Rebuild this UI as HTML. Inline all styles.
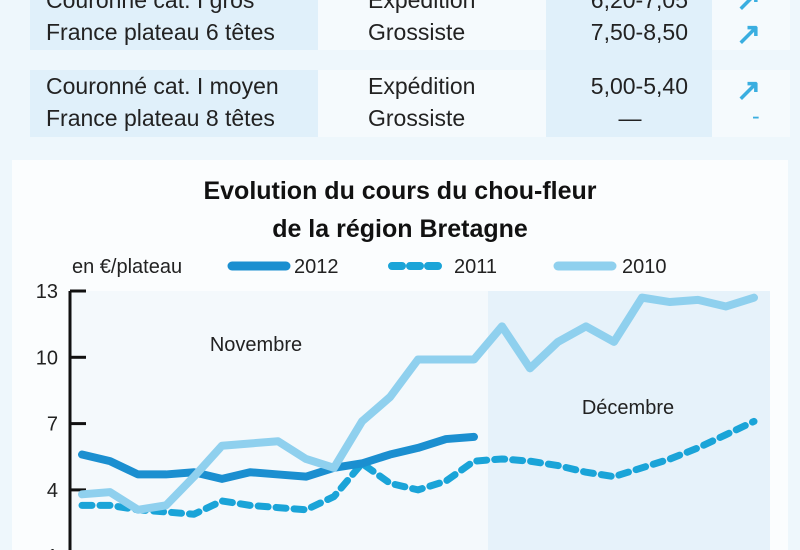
<!DOCTYPE html>
<html><head><meta charset="utf-8"><style>
html,body{margin:0;width:800px;height:550px;overflow:hidden;background:#eef7fc;font-family:"Liberation Sans",sans-serif;}
svg{display:block;}
</style></head><body>
<svg width="800" height="550" viewBox="0 0 800 550" xmlns="http://www.w3.org/2000/svg" font-family="Liberation Sans, sans-serif" overflow="hidden">
<rect x="0" y="0" width="800" height="550" fill="#eef7fc"/>
<g font-size="23" fill="#222">
 <rect x="30" y="0" width="288" height="50" fill="#e0f0fa"/>
 <rect x="318" y="0" width="228" height="50" fill="#f5fafd"/>
 <rect x="546" y="0" width="166" height="137" fill="#e0f0fa"/>
 <rect x="712" y="0" width="78" height="50" fill="#f5fafd"/>
 <rect x="30" y="70" width="288" height="67" fill="#e0f0fa"/>
 <rect x="318" y="70" width="228" height="67" fill="#f5fafd"/>
 <rect x="712" y="70" width="78" height="67" fill="#f5fafd"/>
 <text x="46" y="8">Couronné cat. I gros</text>
 <text x="46" y="40">France plateau 6 têtes</text>
 <text x="368" y="8">Expédition</text>
 <text x="368" y="40">Grossiste</text>
 <text x="688" y="8" text-anchor="end">6,20-7,05</text>
 <text x="688" y="40" text-anchor="end">7,50-8,50</text>
 <text x="46" y="94">Couronné cat. I moyen</text>
 <text x="46" y="126">France plateau 8 têtes</text>
 <text x="368" y="94">Expédition</text>
 <text x="368" y="126">Grossiste</text>
 <text x="688" y="94" text-anchor="end">5,00-5,40</text>
 <text x="630" y="126" text-anchor="middle">—</text>
 <text x="736" y="10" fill="#3aaee0" font-size="30" font-weight="bold">↗</text>
 <text x="736" y="44" fill="#3aaee0" font-size="30" font-weight="bold">↗</text>
 <text x="736" y="100" fill="#3aaee0" font-size="30" font-weight="bold">↗</text>
 <text x="752" y="124" fill="#3aaee0">-</text>
</g>
<rect x="12" y="160" width="776" height="390" fill="#fbfdfe"/>
<text x="400" y="199" text-anchor="middle" font-size="25" font-weight="bold" fill="#111">Evolution du cours du chou-fleur</text>
<text x="400" y="237" text-anchor="middle" font-size="25" font-weight="bold" fill="#111">de la région Bretagne</text>
<g font-size="20" fill="#222">
 <text x="72" y="273">en €/plateau</text>
 <line x1="232" y1="266" x2="286" y2="266" stroke="#1b8fd0" stroke-width="9" stroke-linecap="round"/>
 <text x="294" y="273">2012</text>
 <line x1="392" y1="266" x2="446" y2="266" stroke="#1aa4d8" stroke-width="8" stroke-dasharray="10 8" stroke-linecap="round"/>
 <text x="454" y="273">2011</text>
 <line x1="558" y1="266" x2="612" y2="266" stroke="#8fd0ee" stroke-width="9" stroke-linecap="round"/>
 <text x="622" y="273">2010</text>
</g>
<g id="chart"></g>
</svg>
<script>
const yTicks=[13,10,7,4,1];
const series2012=[5.6,5.3,4.7,4.7,4.8,4.5,4.8,4.7,4.6,5.0,5.2,5.6,5.9,6.3,6.4];
const series2011=[3.3,3.3,3.1,3.0,2.9,3.5,3.3,3.2,3.1,3.7,5.2,4.3,4.0,4.4,5.3,5.4,5.3,5.1,4.8,4.6,5.0,5.4,5.9,6.5,7.1];
const series2010=[3.8,3.9,3.1,3.3,4.6,6.0,6.1,6.2,5.4,5.0,7.1,8.2,9.9,9.9,9.9,11.4,9.5,10.7,11.4,10.7,12.7,12.5,12.6,12.3,12.7];
const monthLabels=["Novembre","Décembre"];
const NS="http://www.w3.org/2000/svg";
const g=document.getElementById("chart");
const x=i=>82+i*28;
const y=v=>291+(13-v)*22.1;
function mk(t,a){const e=document.createElementNS(NS,t);for(const k in a)e.setAttribute(k,a[k]);g.appendChild(e);return e;}
const nov=mk("rect",{x:70,y:y(13),width:418,height:259,fill:"#f4f9fc"});


const dec=mk("rect",{x:488,y:y(13),width:282,height:259,fill:"#e6f2fa"});


const m1=mk("text",{x:256,y:351,"text-anchor":"middle","font-size":20,fill:"#222"});m1.textContent=monthLabels[0];


const m2=mk("text",{x:628,y:414,"text-anchor":"middle","font-size":20,fill:"#222"});m2.textContent=monthLabels[1];


const ax=mk("line",{x1:70,y1:y(13),x2:70,y2:550,stroke:"#111","stroke-width":3});


yTicks.forEach(v=>{
 const t=mk("line",{x1:70,y1:y(v),x2:86,y2:y(v),stroke:"#111","stroke-width":3});
 
 
 const l=mk("text",{x:58,y:y(v)+7,"text-anchor":"end","font-size":20,fill:"#222"});l.textContent=v;
 
 
});
function line(d,color,w,dash,name){
 const p=mk("polyline",{points:d.map((v,i)=>x(i)+","+y(v)).join(" "),fill:"none",stroke:color,"stroke-width":w,"stroke-linejoin":"round","stroke-linecap":"round"});
 if(dash)p.setAttribute("stroke-dasharray",dash);
 
 
}
line(series2011,"#1aa4d8",7,"10 8","line-2011");
line(series2012,"#1b8fd0",8,null,"line-2012");
line(series2010,"#8fd0ee",8,null,"line-2010");
</script>
</body></html>
